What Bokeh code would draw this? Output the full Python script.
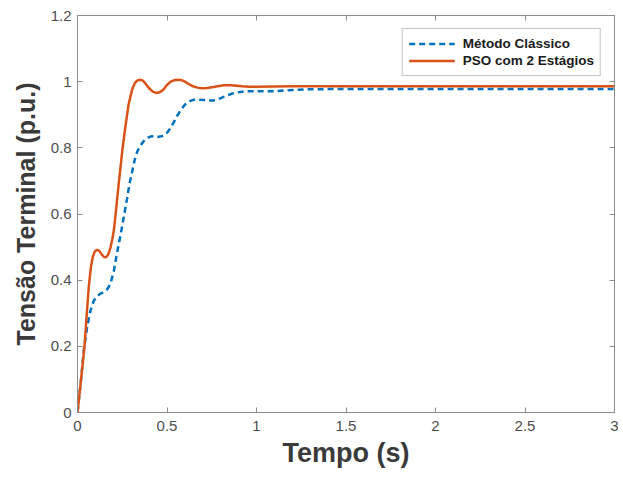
from bokeh.plotting import figure
from bokeh.models import LinearAxis, Range1d, FixedTicker, Legend, LegendItem
from bokeh.embed import file_html
from bokeh.resources import INLINE

# Data
t_pso = [0.0, 0.02, 0.039, 0.052, 0.063, 0.075, 0.085, 0.097, 0.11, 0.122, 0.135, 0.148, 0.16, 0.172, 0.185, 0.195,
         0.203, 0.215, 0.23, 0.25, 0.268, 0.285, 0.305, 0.32, 0.335, 0.351, 0.365, 0.38, 0.4, 0.42, 0.44,
         0.459, 0.48, 0.5, 0.52, 0.545, 0.565, 0.584, 0.6, 0.62, 0.645, 0.67, 0.695, 0.723, 0.76, 0.79, 0.82, 0.853,
         0.89, 0.92, 0.96, 1.0, 1.2, 1.5, 2.0, 2.5, 3.0]
v_pso = [0.0, 0.1, 0.2, 0.3, 0.38, 0.44, 0.47, 0.487, 0.492, 0.488, 0.478, 0.47, 0.469, 0.478, 0.5, 0.525,
         0.55, 0.61, 0.69, 0.79, 0.866, 0.93, 0.976, 0.996, 1.004, 1.006, 1.003, 0.994, 0.98, 0.97, 0.966,
         0.968, 0.976, 0.99, 1.0, 1.005, 1.006, 1.004, 1.0, 0.993, 0.986, 0.982, 0.98, 0.981, 0.984, 0.987, 0.989, 0.989,
         0.988, 0.986, 0.985, 0.985, 0.986, 0.986, 0.986, 0.986, 0.986]

t_cls = [0.0, 0.018, 0.035, 0.053, 0.072, 0.09, 0.11, 0.125, 0.14, 0.155, 0.165, 0.175, 0.185, 0.203, 0.22, 0.24, 0.26,
         0.277, 0.29, 0.305, 0.32, 0.335, 0.351, 0.365, 0.38, 0.395, 0.407, 0.425, 0.445, 0.462,
         0.481, 0.495, 0.51, 0.523, 0.537, 0.555, 0.575, 0.593, 0.61, 0.63, 0.648, 0.667, 0.69, 0.72, 0.74, 0.76, 0.8, 0.835,
         0.87, 0.909, 0.95, 1.0, 1.09, 1.18, 1.28, 1.5, 2.0, 2.5, 3.0]
v_cls = [0.0, 0.09, 0.188, 0.255, 0.307, 0.337, 0.352, 0.358, 0.362, 0.367, 0.372, 0.38, 0.392, 0.427, 0.48, 0.535, 0.595,
         0.647, 0.69, 0.727, 0.765, 0.79, 0.806, 0.817, 0.826, 0.831, 0.834, 0.835, 0.833, 0.834,
         0.837, 0.842, 0.852, 0.864, 0.876, 0.895, 0.913, 0.926, 0.936, 0.942, 0.945, 0.946, 0.945, 0.944, 0.943, 0.943, 0.95, 0.958,
         0.965, 0.969, 0.971, 0.971, 0.971, 0.974, 0.977, 0.978, 0.978, 0.978, 0.978]

x_ticks = [0, 0.5, 1, 1.5, 2, 2.5, 3]
y_ticks = [0, 0.2, 0.4, 0.6, 0.8, 1.0, 1.2]

BLUE = "#0072BD"
ORANGE = "#D95319"
TICK_COLOR = "#4d4d4d"
AX_COLOR = "#8c8c8c"

p = figure(width=618, height=470, output_backend="svg", toolbar_location=None,
           x_range=Range1d(0, 3), y_range=Range1d(0, 1.2),
           min_border_left=77, min_border_right=4, min_border_top=15, min_border_bottom=54)
p.xgrid.visible = False
p.ygrid.visible = False
p.outline_line_color = AX_COLOR
p.outline_line_width = 1
p.background_fill_color = "white"

for ax in (p.xaxis[0], p.yaxis[0]):
    ax.major_tick_in = 5
    ax.major_tick_out = 0
    ax.minor_tick_in = 0
    ax.minor_tick_out = 0
    ax.axis_line_color = AX_COLOR
    ax.major_tick_line_color = AX_COLOR
    ax.major_label_text_color = TICK_COLOR
    ax.major_label_text_font = "Liberation Sans"
    ax.major_label_text_font_size = "15px"
    ax.axis_label_text_font = "Liberation Sans"
    ax.axis_label_text_font_style = "bold"
    ax.axis_label_text_color = "#3a3a3a"

p.xaxis.axis_label_text_font_size = "27px"
p.yaxis.axis_label_text_font_size = "25px"
p.xaxis.ticker = FixedTicker(ticks=x_ticks)
p.yaxis.ticker = FixedTicker(ticks=y_ticks)
p.xaxis.major_label_overrides = {v: ("%g" % v) for v in x_ticks}
p.yaxis.major_label_overrides = {v: ("%g" % v) for v in y_ticks}
p.xaxis.axis_label = "Tempo (s)"
p.yaxis.axis_label = "Tensão Terminal (p.u.)"
p.xaxis.major_label_standoff = 8
p.yaxis.major_label_standoff = 6
p.xaxis.axis_label_standoff = 4
p.yaxis.axis_label_standoff = 8

# mirrored ticks (box on)
top = LinearAxis(ticker=FixedTicker(ticks=x_ticks), major_label_overrides={v: "" for v in x_ticks},
                 major_tick_in=5, major_tick_out=0, minor_tick_in=0, minor_tick_out=0, major_label_standoff=0,
                 axis_line_color=AX_COLOR, major_tick_line_color=AX_COLOR)
right = LinearAxis(ticker=FixedTicker(ticks=y_ticks), major_label_overrides={v: "" for v in y_ticks},
                   major_tick_in=5, major_tick_out=0, minor_tick_in=0, minor_tick_out=0, major_label_standoff=0,
                   axis_line_color=AX_COLOR, major_tick_line_color=AX_COLOR)
p.add_layout(top, "above")
p.add_layout(right, "right")

r1 = p.line(t_cls, v_cls, line_color=BLUE, line_width=2.5, line_dash="6 4")
r2 = p.line(t_pso, v_pso, line_color=ORANGE, line_width=2.5)

legend = Legend(items=[LegendItem(label="Método Clássico", renderers=[r1]),
                       LegendItem(label="PSO com 2 Estágios", renderers=[r2])],
                location="top_right")
legend.label_text_font = "Liberation Sans"
legend.label_text_font_style = "bold"
legend.label_text_font_size = "13.5px"
legend.label_text_color = "#1a1a1a"
legend.border_line_color = AX_COLOR
legend.border_line_width = 1
legend.margin = 13
legend.padding = 6
legend.spacing = 0
legend.label_height = 17
legend.glyph_height = 17
legend.glyph_width = 46
legend.label_standoff = 8
p.add_layout(legend, "center")

open("out.html", "w").write(file_html(p, INLINE))
